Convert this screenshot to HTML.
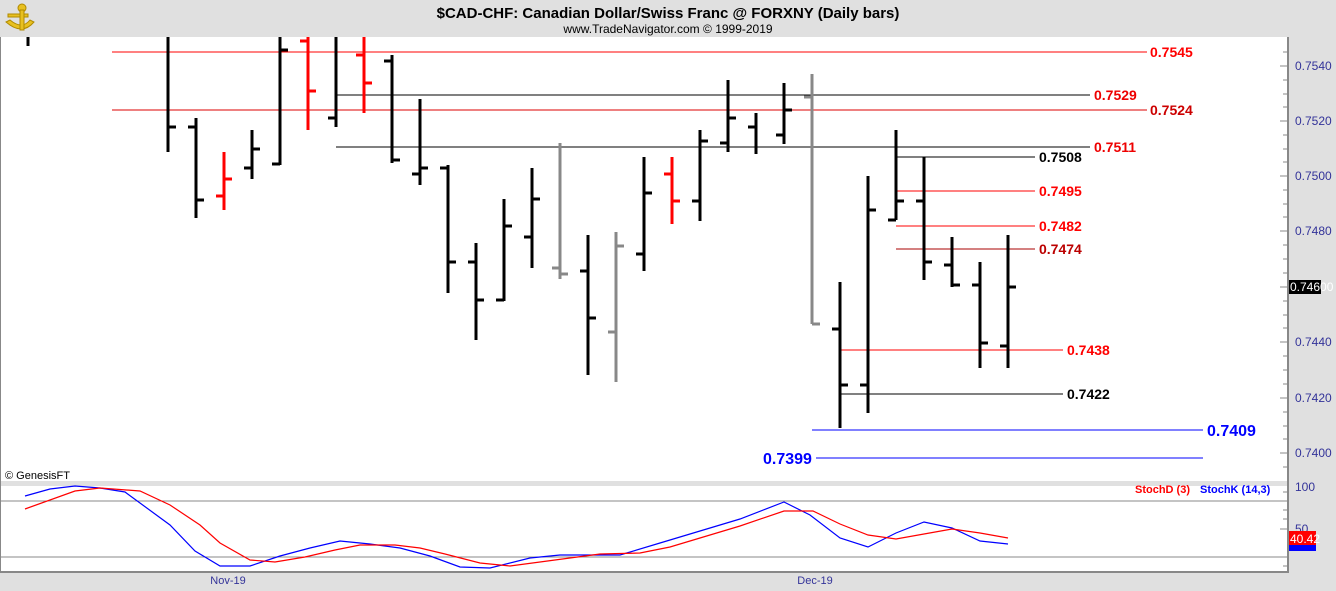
<!DOCTYPE html>
<html><head><meta charset="utf-8"><style>
html,body{margin:0;padding:0;background:#e0e0e0;}
svg{display:block;font-family:"Liberation Sans",Arial,sans-serif;}
</style></head><body>
<svg width="1336" height="591" viewBox="0 0 1336 591" xmlns="http://www.w3.org/2000/svg">
<rect x="0" y="0" width="1336" height="591" fill="#e0e0e0"/>
<rect x="0" y="37" width="1288" height="444" fill="#fff"/>
<rect x="0" y="486" width="1288" height="86" fill="#fff"/>
<line x1="0.5" y1="37" x2="0.5" y2="572" stroke="#888" stroke-width="1"/>
<line x1="1288" y1="37" x2="1288" y2="573" stroke="#888" stroke-width="2"/>
<line x1="0" y1="572" x2="1288" y2="572" stroke="#888" stroke-width="2"/>
<g fill="#e8c020" stroke="#b08a00" stroke-width="1">
<circle cx="22" cy="8" r="4"/><path d="M8 14 L28 14 L28 17 L8 17Z"/><path d="M6 22 Q22 36 34 22 L30 20 Q22 30 10 20Z"/><path d="M20 10 L24 10 L24 30 L20 30Z"/>
</g>
<text x="668" y="18" text-anchor="middle" font-size="15" font-weight="bold" fill="#000">$CAD-CHF:  Canadian Dollar/Swiss Franc @ FORXNY  (Daily bars)</text>
<text x="668" y="33" text-anchor="middle" font-size="12" fill="#000">www.TradeNavigator.com © 1999-2019</text>

<g stroke-width="1">
<line x1="112" y1="52" x2="1147" y2="52" stroke="#f00"/>
<line x1="336" y1="95" x2="1090" y2="95" stroke="#000"/>
<line x1="112" y1="110" x2="1147" y2="110" stroke="#d00"/>
<line x1="336" y1="147" x2="1090" y2="147" stroke="#000"/>
<line x1="896" y1="157" x2="1035" y2="157" stroke="#000"/>
<line x1="896" y1="191" x2="1035" y2="191" stroke="#f00"/>
<line x1="896" y1="226" x2="1035" y2="226" stroke="#f00"/>
<line x1="896" y1="249" x2="1035" y2="249" stroke="#a00"/>
<line x1="840" y1="350" x2="1063" y2="350" stroke="#f00"/>
<line x1="840" y1="394" x2="1063" y2="394" stroke="#000"/>
<line x1="812" y1="430" x2="1203" y2="430" stroke="#00f"/>
<line x1="816" y1="458" x2="1203" y2="458" stroke="#00f"/>
</g>
<g font-size="14" font-weight="bold">
<text x="1150" y="57" fill="#f00">0.7545</text>
<text x="1094" y="100" fill="#e00">0.7529</text>
<text x="1150" y="115" fill="#c00">0.7524</text>
<text x="1094" y="152" fill="#e00">0.7511</text>
<text x="1039" y="162" fill="#000">0.7508</text>
<text x="1039" y="196" fill="#f00">0.7495</text>
<text x="1039" y="231" fill="#f00">0.7482</text>
<text x="1039" y="254" fill="#b00">0.7474</text>
<text x="1067" y="355" fill="#f00">0.7438</text>
<text x="1067" y="399" fill="#000">0.7422</text>
<text x="1207" y="436" fill="#00f" font-size="16">0.7409</text>
<text x="763" y="464" fill="#00f" font-size="16">0.7399</text>
</g>

<g stroke-width="3" fill="none">
<g stroke="#000">
<path d="M28 37V46"/>
<path d="M168 37V152M168 127H176"/>
<path d="M196 118V218M188 127H196M196 200H204"/>
<path d="M252 130V179M244 168H252M252 149H260"/>
<path d="M280 37V165M272 164H280M280 50H288"/>
<path d="M336 37V127M328 118H336"/>
<path d="M392 55V163M384 61H392M392 160H400"/>
<path d="M420 99V185M412 174H420M420 168H428"/>
<path d="M448 165V293M440 168H448M448 262H456"/>
<path d="M476 243V340M468 262H476M476 300H484"/>
<path d="M504 199V301M496 300H504M504 226H512"/>
<path d="M532 168V268M524 237H532M532 199H540"/>
<path d="M588 235V375M580 271H588M588 318H596"/>
<path d="M644 157V271M636 254H644M644 193H652"/>
<path d="M700 130V221M692 201H700M700 141H708"/>
<path d="M728 80V152M720 143H728M728 118H736"/>
<path d="M756 113V154M748 127H756"/>
<path d="M784 83V144M776 135H784M784 110H792"/>
<path d="M840 282V428M832 329H840M840 385H848"/>
<path d="M868 176V413M860 385H868M868 210H876"/>
<path d="M896 130V220M888 220H896M896 201H904"/>
<path d="M924 157V280M916 201H924M924 262H932"/>
<path d="M952 237V287M944 265H952M952 285H960"/>
<path d="M980 262V368M972 285H980M980 343H988"/>
<path d="M1008 235V368M1000 346H1008M1008 287H1016"/>
</g>
<g stroke="#f00">
<path d="M224 152V210M216 196H224M224 179H232"/>
<path d="M308 37V130M300 41H308M308 91H316"/>
<path d="M364 37V113M356 55H364M364 83H372"/>
<path d="M672 157V224M664 174H672M672 201H680"/>
</g>
<g stroke="#888">
<path d="M560 143V279M552 268H560M560 274H568"/>
<path d="M616 232V382M608 332H616M616 246H624"/>
<path d="M812 74V324M804 97H812M812 324H820"/>
</g>
</g>

<g stroke="#888" stroke-width="1">
<line x1="1280" y1="66" x2="1288" y2="66"/><line x1="1280" y1="121" x2="1288" y2="121"/>
<line x1="1280" y1="176" x2="1288" y2="176"/><line x1="1280" y1="231" x2="1288" y2="231"/>
<line x1="1280" y1="287" x2="1288" y2="287"/><line x1="1280" y1="342" x2="1288" y2="342"/>
<line x1="1280" y1="398" x2="1288" y2="398"/><line x1="1280" y1="453" x2="1288" y2="453"/>
<line x1="1283" y1="52" x2="1288" y2="52"/><line x1="1283" y1="80" x2="1288" y2="80"/>
<line x1="1283" y1="94" x2="1288" y2="94"/><line x1="1283" y1="107" x2="1288" y2="107"/>
<line x1="1283" y1="135" x2="1288" y2="135"/><line x1="1283" y1="149" x2="1288" y2="149"/>
<line x1="1283" y1="162" x2="1288" y2="162"/><line x1="1283" y1="190" x2="1288" y2="190"/>
<line x1="1283" y1="204" x2="1288" y2="204"/><line x1="1283" y1="217" x2="1288" y2="217"/>
<line x1="1283" y1="245" x2="1288" y2="245"/><line x1="1283" y1="259" x2="1288" y2="259"/>
<line x1="1283" y1="273" x2="1288" y2="273"/><line x1="1283" y1="301" x2="1288" y2="301"/>
<line x1="1283" y1="315" x2="1288" y2="315"/><line x1="1283" y1="328" x2="1288" y2="328"/>
<line x1="1283" y1="356" x2="1288" y2="356"/><line x1="1283" y1="370" x2="1288" y2="370"/>
<line x1="1283" y1="384" x2="1288" y2="384"/><line x1="1283" y1="412" x2="1288" y2="412"/>
<line x1="1283" y1="426" x2="1288" y2="426"/><line x1="1283" y1="439" x2="1288" y2="439"/>
<line x1="1283" y1="467" x2="1288" y2="467"/>
</g>
<g font-size="12" fill="#333399">
<text x="1295" y="70">0.7540</text><text x="1295" y="125">0.7520</text>
<text x="1295" y="180">0.7500</text><text x="1295" y="235">0.7480</text>
<text x="1295" y="346">0.7440</text><text x="1295" y="402">0.7420</text>
<text x="1295" y="457">0.7400</text>
</g>
<rect x="1289" y="280" width="32" height="14" fill="#000"/>
<text x="1290" y="291" font-size="12" fill="#fff">0.74600</text>

<text x="5" y="479" font-size="11" fill="#000">© GenesisFT</text>

<line x1="0" y1="501" x2="1288" y2="501" stroke="#888"/>
<line x1="0" y1="557" x2="1288" y2="557" stroke="#888"/>
<g stroke="#888"><line x1="1280" y1="501" x2="1288" y2="501"/><line x1="1280" y1="529" x2="1288" y2="529"/><line x1="1283" y1="492" x2="1288" y2="492"/><line x1="1283" y1="510" x2="1288" y2="510"/><line x1="1283" y1="519" x2="1288" y2="519"/><line x1="1283" y1="566" x2="1288" y2="566"/></g>
<text x="1135" y="493" font-size="11" font-weight="bold" fill="#f00">StochD (3)</text>
<text x="1200" y="493" font-size="11" font-weight="bold" fill="#00f">StochK (14,3)</text>
<text x="1295" y="491" font-size="12" fill="#333399">100</text>
<text x="1295" y="533" font-size="12" fill="#333399">50</text>
<polyline fill="none" stroke="#00f" stroke-width="1.2" points="25,496 50,489 75,486 100,488 125,492 170,525 195,551 220,566 250,566 280,556 310,548 340,541 370,544 400,548 430,556 460,567 490,568 530,558 560,555 620,555 660,543 700,531 740,519 784,502 810,515 840,538 868,547 896,533 924,522 952,528 980,541 1008,544"/>
<polyline fill="none" stroke="#f00" stroke-width="1.2" points="25,509 75,491 100,488 140,491 170,505 200,525 220,543 250,560 275,562 305,557 335,550 360,545 395,545 420,548 445,554 480,563 510,566 540,562 570,558 600,554 640,553 670,547 700,538 740,526 784,511 813,511 840,524 868,535 896,539 924,534 952,529 980,533 1008,538"/>
<rect x="1289" y="544" width="27" height="7" fill="#00f"/>
<rect x="1289" y="531" width="27" height="14" fill="#f00"/>
<text x="1290" y="543" font-size="12" fill="#fff">40.42</text>

<text x="228" y="584" text-anchor="middle" font-size="11" fill="#333399">Nov-19</text>
<text x="815" y="584" text-anchor="middle" font-size="11" fill="#333399">Dec-19</text>
</svg>
</body></html>
